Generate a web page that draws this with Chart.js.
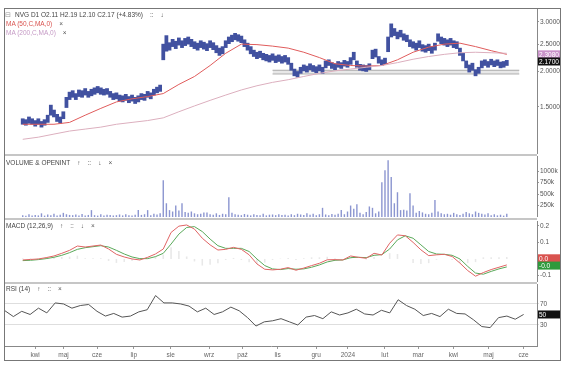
<!DOCTYPE html>
<html>
<head>
<meta charset="utf-8">
<script src="https://cdn.jsdelivr.net/npm/chart.js@4"></script>
<style>
  body { margin: 0; background: #fff; font-family: "Liberation Sans", Arial, sans-serif; }
  #frame { position: absolute; left: 4px; top: 8px; width: 557px; height: 353px; border: 1px solid #777; box-sizing: border-box; }
  canvas { position: absolute; left: 5px; }
  .sep { position: absolute; left: 5px; width: 532px; height: 2px; background: #c6c6c6; }
  .lbl { position: absolute; left: 6px; font-size: 6.5px; line-height: 8px; color: #444; white-space: nowrap; }
  .lbl span { margin-left: 7px; color: #555; }
</style>
</head>
<body>
<div id="frame"></div>
<canvas id="price" width="555" height="145" style="top:9px"></canvas>
<canvas id="volume" width="555" height="61" style="top:156px"></canvas>
<canvas id="macd" width="555" height="61" style="top:221px"></canvas>
<canvas id="rsi" width="555" height="76" style="top:284px"></canvas>
<div class="sep" style="top:154px"></div>
<div class="sep" style="top:218px"></div>
<div class="sep" style="top:282px"></div>

<div class="lbl" style="top:11px;left:5px;color:#999">&#8863;</div>
<div class="lbl" style="top:11px;left:15px">NVG D1 O2.11 H2.19 L2.10 C2.17 (+4.83%)<span>::</span><span>&#8595;</span></div>
<div class="lbl" style="top:20px;color:#d9534f">MA (50,C,MA,0)<span>&#215;</span></div>
<div class="lbl" style="top:29px;color:#c59ac5">MA (200,C,MA,0)<span>&#215;</span></div>
<div class="lbl" style="top:159px">VOLUME &amp; OPENINT<span>&#8593;</span><span>::</span><span>&#8595;</span><span>&#215;</span></div>
<div class="lbl" style="top:222px">MACD (12,26,9)<span>&#8593;</span><span>::</span><span>&#8595;</span><span>&#215;</span></div>
<div class="lbl" style="top:285px">RSI (14)<span>&#8593;</span><span>::</span><span>&#215;</span></div>

<script>
// trading-day index of each month start, and its label
const monthIdx = [18, 35, 55, 77, 99, 122, 142, 163, 186, 205, 227, 247, 268, 289, 310];
const monthLabels = ["kwi", "maj", "cze", "lip", "sie", "wrz", "paź", "lis", "gru", "2024", "lut", "mar", "kwi", "maj", "cze"];

// price bars, one every 2 sessions
const priceLow = [
  1.30, 1.29, 1.31, 1.30, 1.28, 1.30, 1.27, 1.29, 1.32, 1.40,
  1.38, 1.33, 1.31, 1.36, 1.49, 1.59, 1.62, 1.59, 1.63, 1.62,
  1.65, 1.62, 1.64, 1.66, 1.68, 1.66, 1.65, 1.66, 1.62, 1.59,
  1.60, 1.57, 1.56, 1.58, 1.55, 1.57, 1.54, 1.56, 1.59, 1.58,
  1.62, 1.60, 1.65, 1.68, 1.70, 2.20, 2.36, 2.38, 2.45, 2.41,
  2.48, 2.43, 2.47, 2.50, 2.45, 2.41, 2.38, 2.43, 2.40, 2.37,
  2.43, 2.39, 2.33, 2.28, 2.31, 2.43, 2.51, 2.55, 2.59, 2.56,
  2.53, 2.45, 2.38, 2.31, 2.26, 2.22, 2.24, 2.20, 2.18, 2.16,
  2.19, 2.15, 2.17, 2.14, 2.16, 2.12, 2.02, 1.93, 1.91, 1.97,
  2.01, 1.99, 2.03, 2.00, 1.98, 2.01, 1.97, 2.06, 2.10, 2.05,
  2.03, 2.07, 2.05, 2.09, 2.07, 2.12, 2.20, 2.07, 2.02, 2.01,
  2.00, 2.03, 2.22, 2.25, 2.14, 2.10, 2.13, 2.35, 2.65, 2.68,
  2.61, 2.65, 2.58, 2.55, 2.45, 2.42, 2.38, 2.43, 2.36, 2.34,
  2.37, 2.32, 2.38, 2.56, 2.51, 2.48, 2.45, 2.48, 2.43, 2.41,
  2.28, 2.18, 2.06, 1.99, 2.02, 1.93, 1.97, 2.06, 2.10, 2.07,
  2.11, 2.08, 2.10, 2.06, 2.07, 2.10
];
const priceHigh = [
  1.36, 1.35, 1.38, 1.36, 1.34, 1.36, 1.33, 1.35, 1.40, 1.52,
  1.46, 1.41, 1.38, 1.44, 1.62, 1.69, 1.71, 1.67, 1.72, 1.71,
  1.74, 1.70, 1.73, 1.75, 1.77, 1.75, 1.73, 1.74, 1.70, 1.67,
  1.68, 1.65, 1.64, 1.66, 1.63, 1.65, 1.62, 1.64, 1.67, 1.66,
  1.70, 1.68, 1.73, 1.76, 1.79, 2.50, 2.68, 2.53, 2.60, 2.56,
  2.63, 2.57, 2.62, 2.65, 2.60, 2.55, 2.52, 2.57, 2.54, 2.51,
  2.57, 2.53, 2.47, 2.42, 2.45, 2.57, 2.65, 2.69, 2.73, 2.70,
  2.67, 2.59, 2.52, 2.45, 2.38, 2.34, 2.36, 2.32, 2.30, 2.28,
  2.31, 2.27, 2.29, 2.26, 2.28, 2.24, 2.14, 2.04, 2.00, 2.07,
  2.11, 2.09, 2.13, 2.10, 2.08, 2.11, 2.07, 2.18, 2.20, 2.15,
  2.13, 2.17, 2.15, 2.19, 2.17, 2.24, 2.34, 2.18, 2.12, 2.11,
  2.10, 2.13, 2.38, 2.40, 2.26, 2.20, 2.23, 2.65, 2.95, 2.84,
  2.76, 2.80, 2.72, 2.69, 2.59, 2.55, 2.52, 2.57, 2.49, 2.47,
  2.50, 2.45, 2.52, 2.72, 2.65, 2.62, 2.59, 2.62, 2.57, 2.55,
  2.42, 2.32, 2.18, 2.11, 2.14, 2.03, 2.07, 2.18, 2.20, 2.17,
  2.21, 2.18, 2.20, 2.16, 2.17, 2.19
];
// moving averages, one every 10 sessions
const ma50 = [1.30, 1.30, 1.30, 1.32, 1.40, 1.48, 1.56, 1.60, 1.63, 1.67, 1.80, 1.92, 2.10, 2.32, 2.50, 2.49,
  2.46, 2.42, 2.34, 2.24, 2.13, 2.10, 2.09, 2.10, 2.20, 2.34, 2.44, 2.50, 2.52, 2.45, 2.37, 2.30];
const ma200 = [1.15, 1.17, 1.20, 1.23, 1.25, 1.27, 1.30, 1.32, 1.34, 1.37, 1.44, 1.51, 1.58, 1.65, 1.72, 1.78,
  1.83, 1.87, 1.92, 1.97, 2.01, 2.04, 2.07, 2.10, 2.15, 2.21, 2.26, 2.30, 2.33, 2.34, 2.33, 2.32];
// support zone
const zoneRange = [160, 318];
const zoneBand = [1.96, 2.02];
const priceTicks = [1.5, 2, 2.5, 3];

// volume in thousands, one every 2 sessions
const volume = [
  40, 25, 60, 30, 45, 35, 80, 30, 55, 40,
  70, 35, 50, 90, 60, 45, 40, 55, 30, 65,
  35, 45, 150, 40, 30, 60, 35, 50, 45, 30,
  40, 55, 35, 60, 40, 30, 50, 150, 45, 60,
  150, 40, 70, 55, 80, 800, 300, 150, 120, 250,
  140, 300, 110, 90, 120, 80, 60, 70, 100, 100,
  60, 50, 80, 45, 70, 60, 430, 90, 60, 50,
  40, 65, 50, 35, 60, 45, 40, 70, 35, 50,
  55, 40, 60, 45, 50, 35, 60, 40, 70, 55,
  45, 80, 50, 70, 40, 60, 200, 55, 40, 65,
  50, 70, 150, 60, 120, 250, 180, 280, 90, 60,
  110, 230, 200, 80, 120, 760, 1020, 1240, 870, 300,
  540, 150, 160, 140, 520, 250, 90, 130, 100, 70,
  60, 90, 370, 120, 80, 60, 70, 50, 90, 60,
  45, 70, 110, 80, 60, 120, 90, 70, 55, 80,
  40, 60, 35, 50, 30, 70
];
const volumeTicks = [250, 500, 750, 1000];

// MACD, one every 5 sessions
const macdLine = [
  -0.006, -0.003, 0.000, 0.008, 0.018, 0.034, 0.052, 0.078, 0.072, 0.078,
  0.084, 0.060, 0.028, 0.012, 0.000, -0.006, 0.010, 0.030, 0.060, 0.160,
  0.198, 0.205, 0.180, 0.125, 0.085, 0.054, 0.058, 0.070, 0.058, 0.025,
  -0.030, -0.062, -0.066, -0.062, -0.052, -0.068, -0.055, -0.040, -0.026, -0.005,
  -0.004, -0.006, 0.018, 0.010, 0.004, 0.034, 0.024, 0.095, 0.145, 0.140,
  0.100, 0.055, 0.020, 0.025, 0.028, 0.015, -0.025, -0.070, -0.104, -0.082,
  -0.064, -0.050, -0.036
];
const macdSignal = [
  -0.010, -0.008, -0.004, 0.002, 0.010, 0.022, 0.038, 0.058, 0.068, 0.074,
  0.080, 0.072, 0.052, 0.030, 0.012, 0.002, 0.002, 0.014, 0.034, 0.090,
  0.150, 0.190, 0.195, 0.165, 0.120, 0.080, 0.064, 0.064, 0.064, 0.045,
  0.000, -0.040, -0.060, -0.064, -0.058, -0.062, -0.060, -0.050, -0.036, -0.018,
  -0.008, -0.006, 0.008, 0.010, 0.008, 0.022, 0.026, 0.060, 0.115, 0.140,
  0.125, 0.085, 0.045, 0.030, 0.028, 0.022, 0.000, -0.045, -0.085, -0.092,
  -0.075, -0.060, -0.048
];
const macdHist = [
  0.004, 0.005, 0.004, 0.006, 0.008, 0.012, 0.014, 0.020, 0.004, 0.004,
  0.004, -0.012, -0.024, -0.018, -0.012, -0.008, 0.008, 0.016, 0.026, 0.070,
  0.048, 0.015, -0.015, -0.040, -0.035, -0.026, -0.006, 0.006, -0.006, -0.020,
  -0.030, -0.022, -0.006, 0.002, 0.006, -0.006, 0.005, 0.010, 0.010, 0.013,
  0.004, 0.000, 0.010, 0.000, -0.004, 0.012, -0.002, 0.035, 0.030, 0.000,
  -0.025, -0.030, -0.025, -0.005, 0.000, -0.007, -0.025, -0.025, -0.019, 0.010,
  0.011, 0.010, 0.012
];
const macdTicks = [-0.1, 0.1, 0.2];

// RSI, one every 5 sessions
const rsi = [
  57, 46, 56, 50, 62, 53, 72, 70, 62, 67,
  69, 56, 47, 52, 45, 47, 55, 59, 86, 72,
  72, 70, 66, 55, 62, 50, 55, 64, 57, 44,
  28, 36, 38, 42, 36, 30, 45, 48, 42, 55,
  49, 53, 60, 51, 49, 58, 53, 78, 67, 60,
  48, 52, 46, 60, 52, 51, 40, 27, 25, 44,
  47, 41, 50
];
const rsiTicks = [30, 70];

const pts = (arr, step) => arr.map((v, i) => ({ x: i * step, y: v }));

Chart.defaults.font.family = '"Liberation Sans", Arial, sans-serif';
Chart.defaults.font.size = 6.5;
Chart.defaults.color = "#555";

// coloured value boxes on the right axis
const valueBoxes = {
  id: "valueBoxes",
  afterDraw(chart, args, opts) {
    const ctx = chart.ctx;
    const area = chart.chartArea;
    const scale = chart.scales.y;
    (opts.boxes || []).forEach(function (b) {
      const y = scale.getPixelForValue(b.value);
      ctx.save();
      ctx.fillStyle = b.bg;
      ctx.fillRect(area.right + 1, y - 4, 22, 8);
      ctx.fillStyle = "#fff";
      ctx.font = '6.5px "Liberation Sans", Arial';
      ctx.textBaseline = "middle";
      ctx.fillText(b.text, area.right + 2, y + 0.5);
      ctx.restore();
    });
  },
};

function xScale(show) {
  return {
    type: "linear",
    min: 0,
    max: 318,
    display: show,
    afterBuildTicks: function (s) { s.ticks = monthIdx.map(v => ({ value: v })); },
    afterFit: function (s) {
      if (show) s.height = 14;
      s.paddingLeft = 0;
      s.paddingRight = 0;
    },
    ticks: {
      autoSkip: false,
      maxRotation: 0,
      padding: 2,
      color: "#666",
      callback: function (v, i) { return monthLabels[i]; },
    },
    grid: { drawOnChartArea: false, tickLength: 3, color: "#999" },
    border: { display: true, color: "#888" },
  };
}

function yScale(extra) {
  return Object.assign({
    position: "right",
    afterFit: function (s) { s.width = 23; s.paddingTop = 0; s.paddingBottom = 0; },
    grid: { drawOnChartArea: false, tickLength: 2, color: "#999" },
    border: { display: true, color: "#888" },
  }, extra);
}

const base = {
  responsive: false,
  animation: false,
  layout: { padding: 0 },
};

document.addEventListener("DOMContentLoaded", function () {
  new Chart(document.getElementById("price").getContext("2d"), {
    type: "bar",
    data: {
      datasets: [
        {
          type: "line",
          data: [{ x: zoneRange[0], y: zoneBand[1] }, { x: zoneRange[1], y: zoneBand[1] }],
          borderColor: "#a9a9a9", borderWidth: 1, pointRadius: 0,
          fill: "+1", backgroundColor: "rgba(190,190,190,0.35)", order: 3,
        },
        {
          type: "line",
          data: [{ x: zoneRange[0], y: zoneBand[0] }, { x: zoneRange[1], y: zoneBand[0] }],
          borderColor: "#a9a9a9", borderWidth: 1, pointRadius: 0, order: 3,
        },
        {
          type: "line", data: pts(ma200, 10),
          borderColor: "#dcafbe", borderWidth: 1, pointRadius: 0, order: 1,
        },
        {
          type: "line", data: pts(ma50, 10),
          borderColor: "#e05c5c", borderWidth: 1, pointRadius: 0, order: 1,
        },
        {
          data: priceLow.map((lo, i) => ({ x: i * 2, y: [lo, priceHigh[i]] })),
          backgroundColor: "#4151a0",
          barPercentage: 1, categoryPercentage: 1, order: 2,
        },
      ],
    },
    options: Object.assign({}, base, {
      plugins: {
        legend: { display: false }, tooltip: { enabled: false },
        valueBoxes: { boxes: [
          { value: 2.30, text: "2.3080", bg: "#c992c9" },
          { value: 2.17, text: "2.1700", bg: "#111" },
        ] },
      },
      scales: {
        x: xScale(false),
        y: yScale({
          type: "logarithmic", min: 1.02, max: 3.33,
          afterBuildTicks: function (s) { s.ticks = priceTicks.map(v => ({ value: v })); },
          ticks: { padding: 1, callback: v => Number(v).toFixed(4) },
        }),
      },
    }),
    plugins: [valueBoxes],
  });

  new Chart(document.getElementById("volume").getContext("2d"), {
    type: "bar",
    data: {
      datasets: [
        {
          data: pts(volume, 2),
          backgroundColor: "rgba(110,122,196,0.8)",
          barPercentage: 0.45, categoryPercentage: 1,
        },
      ],
    },
    options: Object.assign({}, base, {
      plugins: { legend: { display: false }, tooltip: { enabled: false } },
      scales: {
        x: xScale(false),
        y: yScale({
          min: 0, max: 1330,
          afterBuildTicks: function (s) { s.ticks = volumeTicks.map(v => ({ value: v })); },
          ticks: { padding: 1, callback: v => v + "k" },
        }),
      },
    }),
  });

  new Chart(document.getElementById("macd").getContext("2d"), {
    type: "bar",
    data: {
      datasets: [
        {
          type: "line", data: pts(macdLine, 5),
          borderColor: "#e06464", borderWidth: 1, pointRadius: 0, order: 1,
        },
        {
          type: "line", data: pts(macdSignal, 5),
          borderColor: "#5aa95a", borderWidth: 1, pointRadius: 0, order: 1,
        },
        {
          data: pts(macdHist, 5),
          backgroundColor: "rgba(205,205,205,0.45)",
          barPercentage: 0.2, categoryPercentage: 1, order: 2,
        },
      ],
    },
    options: Object.assign({}, base, {
      plugins: {
        legend: { display: false }, tooltip: { enabled: false },
        valueBoxes: { boxes: [
          { value: 0.004, text: "0.0", bg: "#d9534f" },
          { value: -0.04, text: "-0.0", bg: "#2e9a3c" },
        ] },
      },
      scales: {
        x: xScale(false),
        y: yScale({
          min: -0.139, max: 0.229,
          afterBuildTicks: function (s) { s.ticks = macdTicks.map(v => ({ value: v })); },
          ticks: { padding: 1, callback: v => v.toFixed(1) },
        }),
      },
    }),
    plugins: [valueBoxes],
  });

  new Chart(document.getElementById("rsi").getContext("2d"), {
    type: "line",
    data: {
      datasets: [
        { data: pts(rsi, 5), borderColor: "#555", borderWidth: 1, pointRadius: 0 },
      ],
    },
    options: Object.assign({}, base, {
      plugins: {
        legend: { display: false }, tooltip: { enabled: false },
        valueBoxes: { boxes: [{ value: 50, text: "50", bg: "#111" }] },
      },
      scales: {
        x: xScale(true),
        y: yScale({
          min: -10, max: 108,
          afterBuildTicks: function (s) { s.ticks = rsiTicks.map(v => ({ value: v })); },
          ticks: { padding: 1 },
          grid: { drawOnChartArea: true, tickLength: 2, color: "#dedede" },
        }),
      },
    }),
    plugins: [valueBoxes],
  });
});
</script>
</body>
</html>
